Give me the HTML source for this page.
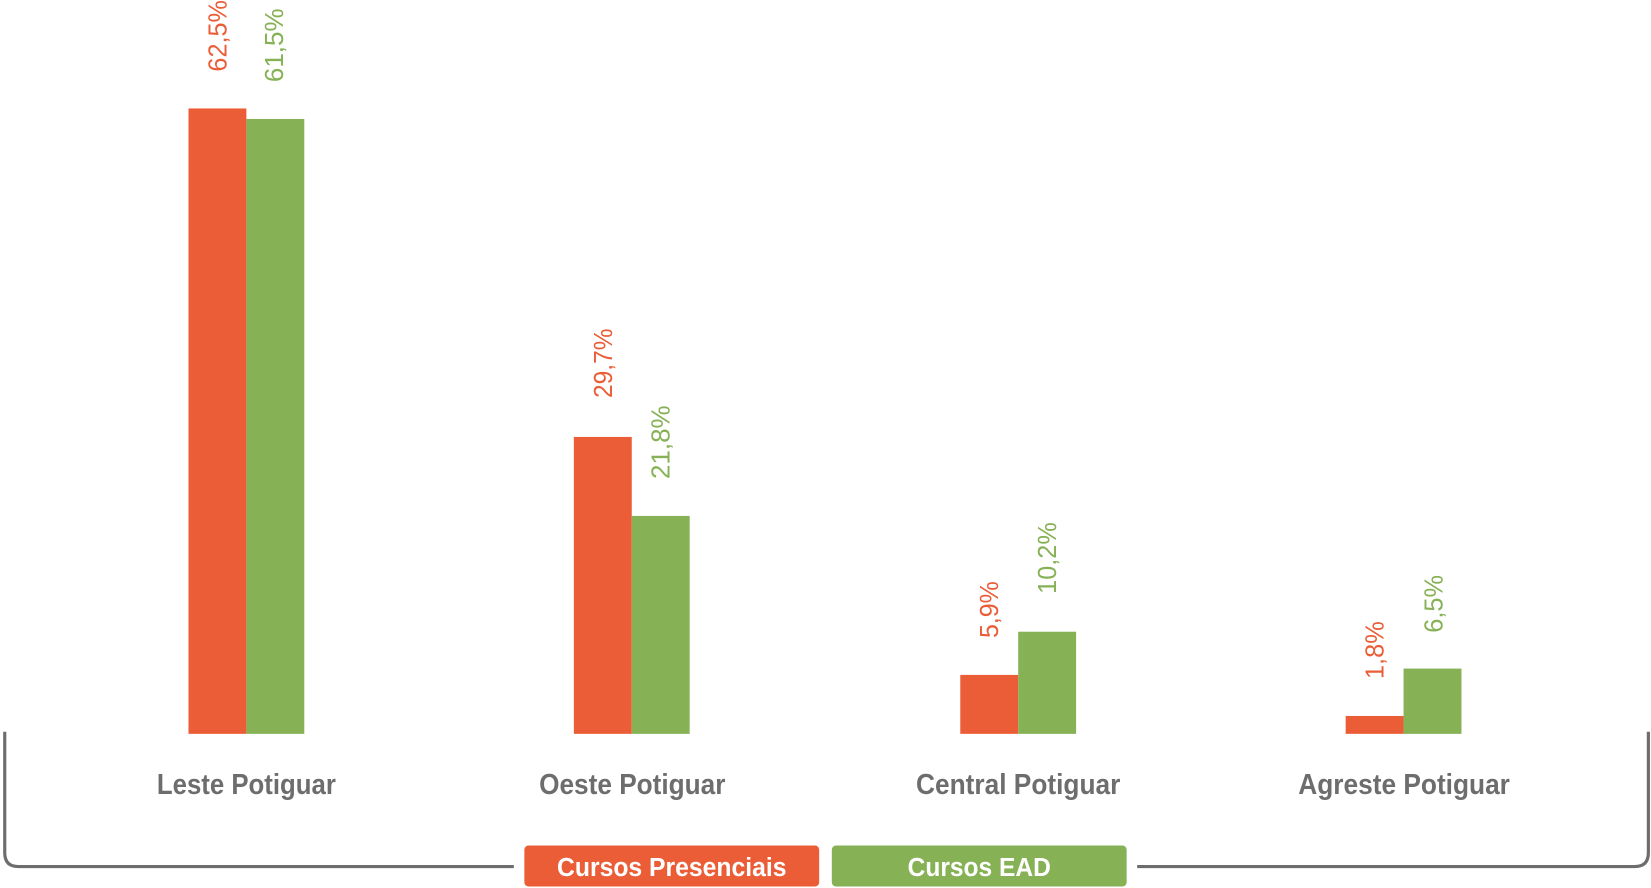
<!DOCTYPE html>
<html><head><meta charset="utf-8"><style>
html,body{margin:0;padding:0;background:#fff;}
svg{display:block;}
</style></head><body>
<svg width="1651" height="888" viewBox="0 0 1568 843.4" preserveAspectRatio="none" xmlns="http://www.w3.org/2000/svg" font-family="'Liberation Sans Narrow','Liberation Sans',sans-serif">
<g fill="#EB5D37">
<rect x="179" y="103" width="55" height="594"/>
<rect x="545" y="415" width="55" height="282"/>
<rect x="912" y="641" width="55" height="56"/>
<rect x="1278" y="680" width="55" height="17"/>
</g>
<g fill="#86B155">
<rect x="234" y="113" width="55" height="584"/>
<rect x="600" y="490" width="55" height="207"/>
<rect x="967" y="600" width="55" height="97"/>
<rect x="1333" y="635" width="55" height="62"/>
</g>
<g font-size="25" fill="#EB5D37">
<text transform="translate(215,68) rotate(-90)" textLength="68" lengthAdjust="spacingAndGlyphs">62,5%</text>
<text transform="translate(581,378) rotate(-90)" textLength="66" lengthAdjust="spacingAndGlyphs">29,7%</text>
<text transform="translate(948,606) rotate(-90)" textLength="54" lengthAdjust="spacingAndGlyphs">5,9%</text>
<text transform="translate(1314,645) rotate(-90)" textLength="55" lengthAdjust="spacingAndGlyphs">1,8%</text>
</g>
<g font-size="25" fill="#86B155">
<text transform="translate(269,78) rotate(-90)" textLength="70" lengthAdjust="spacingAndGlyphs">61,5%</text>
<text transform="translate(636,455) rotate(-90)" textLength="70" lengthAdjust="spacingAndGlyphs">21,8%</text>
<text transform="translate(1003,564) rotate(-90)" textLength="68" lengthAdjust="spacingAndGlyphs">10,2%</text>
<text transform="translate(1370,601) rotate(-90)" textLength="55" lengthAdjust="spacingAndGlyphs">6,5%</text>
</g>
<g font-size="27" font-weight="bold" fill="#6d6d6d">
<text x="149" y="754" textLength="170" lengthAdjust="spacingAndGlyphs">Leste Potiguar</text>
<text x="512" y="754" textLength="177" lengthAdjust="spacingAndGlyphs">Oeste Potiguar</text>
<text x="870" y="754" textLength="194" lengthAdjust="spacingAndGlyphs">Central Potiguar</text>
<text x="1233" y="754" textLength="201" lengthAdjust="spacingAndGlyphs">Agreste Potiguar</text>
</g>
<path d="M4.5 695 V810 Q4.5 823 17.5 823 H488" fill="none" stroke="#6d6d6d" stroke-width="3"/>
<path d="M1080 823 H1552.5 Q1565.5 823 1565.5 810 V695" fill="none" stroke="#6d6d6d" stroke-width="3"/>
<rect x="498" y="803" width="280" height="39" rx="4" fill="#EB5D37"/>
<rect x="790" y="803" width="280" height="39" rx="4" fill="#86B155"/>
<g font-size="25" font-weight="bold" fill="#fff" text-anchor="middle">
<text x="638" y="832" textLength="218" lengthAdjust="spacingAndGlyphs">Cursos Presenciais</text>
<text x="930" y="832" textLength="136" lengthAdjust="spacingAndGlyphs">Cursos EAD</text>
</g>
</svg>
</body></html>
